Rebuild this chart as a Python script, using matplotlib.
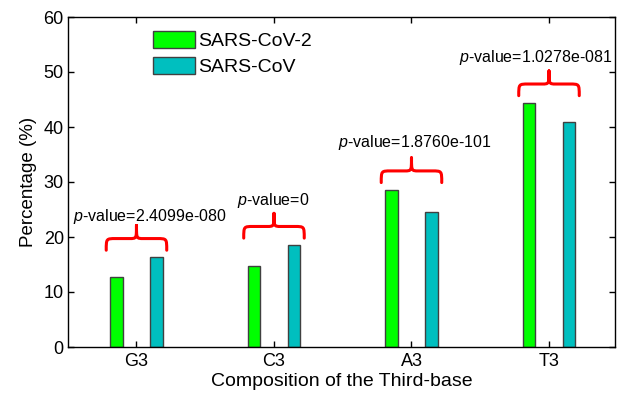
import matplotlib
matplotlib.use("Agg")
import matplotlib.pyplot as plt
from matplotlib.path import Path
from matplotlib.patches import PathPatch
import numpy as np

plt.rcParams['font.family'] = ['Liberation Sans', 'DejaVu Sans']
plt.rcParams['mathtext.fontset'] = 'custom'
plt.rcParams['mathtext.rm'] = 'Liberation Sans'
plt.rcParams['mathtext.it'] = 'Liberation Sans:italic'

categories = ['G3', 'C3', 'A3', 'T3']
sars_cov2 = [12.8, 14.7, 28.6, 44.4]
sars_cov = [16.3, 18.5, 24.5, 41.0]
series_names = ['SARS-CoV-2', 'SARS-CoV']
p_values = ['2.4099e-080', '0', '1.8760e-101', '1.0278e-081']
text_offsets = [0.098, -0.005, 0.025, -0.10]
text_rise = [0.9, 1.5, 1.9, 1.7]

W, H = 620, 396
fig = plt.figure(figsize=(W / 100, H / 100), dpi=100)
ax = fig.add_axes([68 / W, 1 - 347 / H, (615 - 68) / W, (347 - 17) / H])

x = np.arange(1, len(categories) + 1)
off = 0.146
bw = 0.09
ax.bar(x - off, sars_cov2, bw, color='#00FF00', edgecolor='#404040', linewidth=1.0,
       label=series_names[0], zorder=2)
ax.bar(x + off, sars_cov, bw, color='#00BFBF', edgecolor='#404040', linewidth=1.0,
       label=series_names[1], zorder=2)

ax.set_xlim(0.502, 4.48)
ax.set_ylim(0, 60)
ax.set_xticks(x)
ax.set_xticklabels(categories)
ax.set_yticks(np.arange(0, 61, 10))
ax.tick_params(direction='in', top=True, right=True, length=4, width=1.0,
               labelsize=13, pad=4.5)
ax.tick_params(axis='y', pad=3)
for s in ax.spines.values():
    s.set_linewidth(1.0)

ax.set_xlabel('Composition of the Third-base', fontsize=14, labelpad=2)
ax.set_ylabel('Percentage (%)', fontsize=13.5, labelpad=5)


def brace(ax, xc, ybot, half=0.22, h=4.5):
    y1 = ybot + h * 0.47
    y2 = ybot + h
    dx = 0.07
    dc = 0.05
    xl, xr = xc - half, xc + half
    verts = [
        (xl, ybot), (xl, y1), (xl, y1), (xl + dx, y1),
        (xc - dc, y1), (xc, y1), (xc, y1), (xc, y2),
        (xc, y1), (xc, y1), (xc + dc, y1),
        (xr - dx, y1), (xr, y1), (xr, y1), (xr, ybot),
    ]
    codes = [Path.MOVETO, Path.CURVE4, Path.CURVE4, Path.CURVE4,
             Path.LINETO, Path.CURVE4, Path.CURVE4, Path.CURVE4,
             Path.CURVE4, Path.CURVE4, Path.CURVE4,
             Path.LINETO, Path.CURVE4, Path.CURVE4, Path.CURVE4]
    ax.add_patch(PathPatch(Path(verts, codes), facecolor='none', edgecolor='#FF0000',
                           linewidth=2.2, capstyle='round', joinstyle='round', zorder=3))
    return y2


for i, xc in enumerate(x):
    top = max(sars_cov2[i], sars_cov[i])
    tip = brace(ax, xc, top + 1.3)
    ax.text(xc + text_offsets[i], tip + text_rise[i], '$p$-value=' + p_values[i],
            ha='center', va='baseline', fontsize=11.5)

leg = ax.legend(loc='upper left', bbox_to_anchor=(152.7 / W, 1 - 31 / H),
                bbox_transform=fig.transFigure, frameon=False, fontsize=14,
                handlelength=2.15, handleheight=0.98, handletextpad=0.2,
                labelspacing=0.34, borderpad=0, borderaxespad=0)

fig.savefig('out.png', dpi=100)
